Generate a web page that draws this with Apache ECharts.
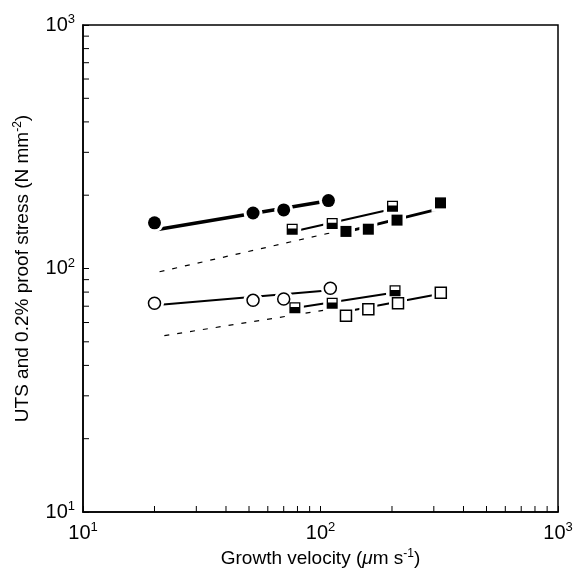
<!DOCTYPE html>
<html>
<head>
<meta charset="utf-8">
<script src="https://cdn.jsdelivr.net/npm/echarts@6/dist/echarts.min.js"></script>
<style>
html,body{margin:0;padding:0;background:#fff}
#chart{width:581px;height:574px}
</style>
</head>
<body>
<div id="chart"></div>
<script>
// growth velocity (um/s) and stress (N/mm2)
var utsCircleX = [20, 52, 70, 108];
var utsCircleY = [154, 169, 174, 190];
var utsHalfX = [76, 112, 201];
var utsHalfY = [145, 153, 180];
var utsSolidX = [128, 159, 210, 320];
var utsSolidY = [142, 145, 158, 186];

var proofCircleX = [20, 52, 70, 110];
var proofCircleY = [72, 74, 75, 83];
var proofHalfX = [78, 112, 206];
var proofHalfY = [69, 72, 81];
var proofOpenX = [128, 159, 212, 321];
var proofOpenY = [64, 68, 72, 79.5];

// fitted lines (end points)
var utsCircleFitX = [20, 105];   var utsCircleFitY = [144, 189];
var utsHalfFitX = [76, 201];     var utsHalfFitY = [141.5, 175.6];
var utsSolidFitX = [128, 319];   var utsSolidFitY = [141.4, 176.2];
var proofCircleFitX = [20, 110]; var proofCircleFitY = [70.6, 81.4];
var proofHalfFitX = [78, 206];   var proofHalfFitY = [68.9, 79.7];
var proofOpenFitX = [128, 321];  var proofOpenFitY = [66.6, 78.8];
var utsDashX = [21, 117];        var utsDashY = [97, 142];
var proofDashX = [22, 110];      var proofDashY = [53, 68];

// minor tick values
var minorTicks = [20, 30, 40, 50, 60, 70, 80, 90, 200, 300, 400, 500, 600, 700, 800, 900];

var FONT = 'Liberation Sans, Arial, sans-serif';
var HALF_SQ = 'path://M0,0H12V12H0Z M1.4,1.4V5.2H10.6V1.4Z';

function pairs(xs, ys) {
	return xs.map(function (x, i) { return [x, ys[i]]; });
}

var chart = echarts.init(document.getElementById('chart'));

function fitLine(xs, ys, w, dash) {
	return {
		type: 'line', z: 1, silent: true, symbol: 'none', animation: false,
		lineStyle: {color: '#000', width: w, type: dash || 'solid'},
		data: pairs(xs, ys)
	};
}

function marks(xs, ys, symbol, size, fill, border) {
	return {
		type: 'scatter', z: 3, silent: true, symbol: symbol, symbolSize: size, animation: false,
		itemStyle: {color: fill, borderColor: '#000', borderWidth: border, opacity: 1},
		data: pairs(xs, ys)
	};
}

function halo(data, symbol, size) {
	return {
		type: 'scatter', z: 2, silent: true, symbol: symbol, symbolSize: size, animation: false,
		itemStyle: {color: '#fff', opacity: 1},
		data: data
	};
}

var circlePts = pairs(utsCircleX, utsCircleY).concat(pairs(proofCircleX, proofCircleY));
var squarePts = pairs(utsHalfX, utsHalfY).concat(pairs(utsSolidX, utsSolidY),
	pairs(proofHalfX, proofHalfY), pairs(proofOpenX, proofOpenY));

var tickData = minorTicks.map(function (v) { return [v, 'x']; })
	.concat(minorTicks.map(function (v) { return [v, 'y']; }));

var labelRich = {
	b: {fontSize: 20, fontFamily: FONT, color: '#000'},
	s: {fontSize: 13, fontFamily: FONT, color: '#000', padding: [0, 0, 11, 0]}
};
function powLabel(v) {
	return '{b|10}{s|' + Math.round(Math.log10(v)) + '}';
}

option = {
	backgroundColor: '#fff',
	animation: false,
	grid: {left: 83, right: 23, top: 25, bottom: 62, outerBoundsMode: 'none', containLabel: false,
		show: true, borderColor: '#000', borderWidth: 1.5},
	xAxis: {
		type: 'log', logBase: 10, min: 10, max: 1000,
		name: '{n|Growth velocity (}{i|μ}{n|m s}{s|-1}{n|)}',
		nameLocation: 'middle', nameGap: 36,
		nameTextStyle: {rich: {
			n: {fontSize: 19, fontFamily: FONT, color: '#000'},
			i: {fontSize: 19, fontFamily: FONT, fontStyle: 'italic', color: '#000'},
			s: {fontSize: 12, fontFamily: FONT, color: '#000', padding: [0, 0, 10, 0]}
		}},
		axisLine: {lineStyle: {color: '#000', width: 1.5}},
		axisTick: {inside: true, length: 6, lineStyle: {color: '#000'}},
		splitLine: {show: false},
		axisLabel: {formatter: powLabel, rich: labelRich, margin: 9}
	},
	yAxis: {
		type: 'log', logBase: 10, min: 10, max: 1000,
		name: '{n|UTS and 0.2% proof stress (N mm}{s|-2}{n|)}',
		nameLocation: 'middle', nameGap: 49,
		nameTextStyle: {rich: {
			n: {fontSize: 19, fontFamily: FONT, color: '#000'},
			s: {fontSize: 12, fontFamily: FONT, color: '#000', padding: [0, 0, 10, 0]}
		}},
		axisLine: {lineStyle: {color: '#000', width: 1.5}},
		axisTick: {inside: true, length: 6, lineStyle: {color: '#000'}},
		splitLine: {show: false},
		axisLabel: {formatter: powLabel, rich: labelRich, margin: 8}
	},
	series: [
		fitLine(utsCircleFitX, utsCircleFitY, 3.5),
		fitLine(utsHalfFitX, utsHalfFitY, 2),
		fitLine(utsSolidFitX, utsSolidFitY, 3),
		fitLine(proofCircleFitX, proofCircleFitY, 2),
		fitLine(proofHalfFitX, proofHalfFitY, 2),
		fitLine(proofOpenFitX, proofOpenFitY, 2),
		fitLine(utsDashX, utsDashY, 1.2, [5, 8]),
		fitLine(proofDashX, proofDashY, 1.2, [5, 8]),
		halo(circlePts, 'circle', 19),
		halo(squarePts, 'rect', 18),
		marks(utsCircleX, utsCircleY, 'circle', 13, '#000', 0),
		marks(utsHalfX, utsHalfY, HALF_SQ, 11, '#000', 0),
		marks(utsSolidX, utsSolidY, 'rect', 11, '#000', 0),
		marks(proofCircleX, proofCircleY, 'circle', 12, '#fff', 1.5),
		marks(proofHalfX, proofHalfY, HALF_SQ, 11, '#000', 0),
		marks(proofOpenX, proofOpenY, 'rect', 11, '#fff', 1.5),
		{
			// minor ticks on the log axes
			type: 'custom', z: 4, silent: true, animation: false,
			clip: false,
			renderItem: function (params, api) {
				var v = api.value(0);
				var onX = tickData[params.dataIndex][1] === 'x';
				var p = onX ? api.coord([v, 10]) : api.coord([10, v]);
				var shape = onX ? {x1: p[0], y1: p[1], x2: p[0], y2: p[1] - 6}
					: {x1: p[0], y1: p[1], x2: p[0] + 6, y2: p[1]};
				return {type: 'line', shape: shape, style: {stroke: '#000', lineWidth: 1}};
			},
			encode: {x: 0},
			data: tickData.map(function (d) { return [d[0], 10]; })
		}
	]
};

chart.setOption(option);
</script>
</body>
</html>
